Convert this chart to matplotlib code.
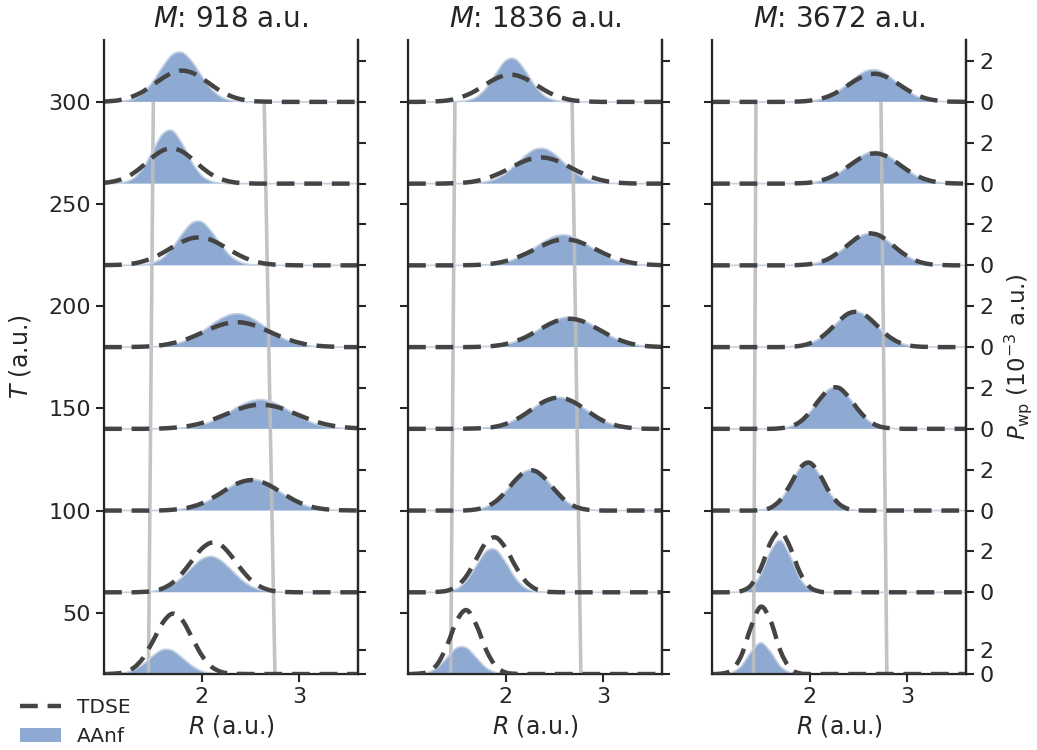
import numpy as np
import matplotlib
matplotlib.use("Agg")
import matplotlib.pyplot as plt
from matplotlib.path import Path
from matplotlib.patches import PathPatch, Patch
from matplotlib.lines import Line2D

# ---------------- data ----------------
R_grid = np.linspace(1.0, 3.6, 27)          # R (a.u.)
T_rows = [20, 60, 100, 140, 180, 220, 260, 300]   # T (a.u.) of each snapshot
masses = [918, 1836, 3672]

# P_wp in 10^-3 a.u., one list per T row (20 ... 300)
aanf_918 = [
    [0,0.02,0.09,0.32,0.82,1.52,2.05,1.98,1.38,0.70,0.25,0.07,0.01,0,0,0,0,0,0,0,0,0,0,0,0,0,0],
    [0,0,0,0,0.01,0.05,0.15,0.37,0.74,1.21,1.62,1.76,1.55,1.12,0.65,0.31,0.12,0.04,0.01,0,0,0,0,0,0,0,0],
    [0,0,0,0,0,0,0.01,0.03,0.08,0.17,0.33,0.56,0.86,1.18,1.42,1.53,1.46,1.23,0.93,0.62,0.37,0.19,0.09,0.04,0.01,0,0],
    [0,0,0,0,0,0,0.01,0.02,0.04,0.09,0.19,0.36,0.59,0.87,1.15,1.35,1.43,1.35,1.15,0.87,0.59,0.36,0.19,0.09,0.04,0.02,0.01],
    [0,0,0,0,0.01,0.02,0.05,0.12,0.25,0.46,0.75,1.09,1.40,1.60,1.62,1.45,1.16,0.82,0.52,0.29,0.14,0.06,0.02,0.01,0,0,0],
    [0,0,0,0.01,0.03,0.12,0.36,0.85,1.53,2.07,2.13,1.66,0.98,0.44,0.15,0.04,0.01,0,0,0,0,0,0,0,0,0,0],
    [0,0.01,0.06,0.25,0.75,1.60,2.42,2.59,1.96,1.05,0.40,0.11,0.02,0,0,0,0,0,0,0,0,0,0,0,0,0,0],
    [0,0.01,0.04,0.15,0.44,0.99,1.71,2.31,2.42,1.98,1.27,0.63,0.24,0.07,0.02,0,0,0,0,0,0,0,0,0,0,0,0],
]
tdse_918 = [
    [0,0.03,0.14,0.50,1.35,2.77,4.31,5.09,4.56,3.09,1.59,0.62,0.18,0.04,0.01,0,0,0,0,0,0,0,0,0,0,0,0],
    [0,0,0,0,0.02,0.06,0.19,0.46,0.93,1.54,2.13,2.43,2.30,1.80,1.16,0.62,0.28,0.10,0.03,0.01,0,0,0,0,0,0,0],
    [0,0,0,0,0,0,0.01,0.04,0.09,0.19,0.35,0.59,0.87,1.17,1.39,1.49,1.42,1.22,0.93,0.64,0.39,0.22,0.11,0.05,0.02,0.01,0],
    [0,0,0,0,0,0.01,0.02,0.05,0.09,0.17,0.28,0.43,0.62,0.81,1.00,1.13,1.18,1.14,1.03,0.85,0.66,0.47,0.31,0.19,0.11,0.06,0.03],
    [0,0,0,0.01,0.02,0.05,0.10,0.19,0.31,0.49,0.70,0.91,1.09,1.20,1.21,1.12,0.95,0.74,0.53,0.35,0.21,0.11,0.06,0.03,0.01,0,0],
    [0.01,0.02,0.04,0.09,0.20,0.37,0.61,0.89,1.15,1.33,1.36,1.24,1.00,0.72,0.46,0.26,0.13,0.06,0.02,0.01,0,0,0,0,0,0,0],
    [0.04,0.11,0.25,0.51,0.88,1.30,1.62,1.73,1.57,1.22,0.80,0.45,0.22,0.09,0.03,0.01,0,0,0,0,0,0,0,0,0,0,0],
    [0.02,0.05,0.13,0.28,0.51,0.83,1.16,1.43,1.53,1.43,1.16,0.83,0.51,0.28,0.13,0.05,0.02,0.01,0,0,0,0,0,0,0,0,0],
]
aanf_1836 = [
    [0,0.02,0.13,0.53,1.38,2.21,2.21,1.38,0.53,0.13,0.02,0,0,0,0,0,0,0,0,0,0,0,0,0,0,0,0],
    [0,0,0,0,0.03,0.17,0.57,1.30,2.00,2.08,1.47,0.70,0.22,0.05,0.01,0,0,0,0,0,0,0,0,0,0,0,0],
    [0,0,0,0,0,0,0.01,0.06,0.18,0.46,0.93,1.50,1.92,1.96,1.60,1.04,0.54,0.22,0.07,0.02,0,0,0,0,0,0,0],
    [0,0,0,0,0,0,0.01,0.02,0.05,0.11,0.24,0.45,0.74,1.07,1.37,1.53,1.51,1.32,1.01,0.68,0.40,0.21,0.10,0.04,0.01,0,0],
    [0,0,0,0,0,0,0,0.01,0.03,0.06,0.14,0.27,0.48,0.74,1.04,1.30,1.45,1.45,1.30,1.04,0.74,0.48,0.27,0.14,0.06,0.03,0.01],
    [0,0,0,0,0,0,0,0.01,0.03,0.07,0.16,0.32,0.56,0.87,1.18,1.42,1.49,1.38,1.12,0.81,0.51,0.28,0.14,0.06,0.02,0.01,0],
    [0,0,0,0,0,0,0.01,0.03,0.09,0.24,0.51,0.92,1.37,1.68,1.71,1.45,1.01,0.58,0.28,0.11,0.04,0.01,0,0,0,0,0],
    [0,0,0,0,0,0.01,0.06,0.23,0.67,1.38,2.02,2.09,1.53,0.79,0.29,0.08,0.01,0,0,0,0,0,0,0,0,0,0],
]
tdse_1836 = [
    [0,0.03,0.18,0.83,2.42,4.51,5.39,4.13,2.03,0.64,0.13,0.02,0,0,0,0,0,0,0,0,0,0,0,0,0,0,0],
    [0,0,0,0.02,0.08,0.29,0.81,1.64,2.45,2.68,2.16,1.28,0.56,0.18,0.04,0.01,0,0,0,0,0,0,0,0,0,0,0],
    [0,0,0,0,0,0,0.01,0.06,0.18,0.46,0.92,1.49,1.90,1.94,1.58,1.03,0.53,0.22,0.07,0.02,0,0,0,0,0,0,0],
    [0,0,0,0,0,0,0.01,0.02,0.05,0.11,0.24,0.44,0.73,1.06,1.35,1.51,1.49,1.30,1.00,0.67,0.39,0.21,0.10,0.04,0.01,0,0],
    [0,0,0,0,0,0,0,0.01,0.03,0.07,0.15,0.29,0.48,0.74,1.00,1.24,1.37,1.37,1.24,1.00,0.74,0.48,0.29,0.15,0.07,0.03,0.01],
    [0,0,0,0,0,0,0.01,0.02,0.05,0.11,0.21,0.36,0.56,0.79,1.02,1.20,1.27,1.22,1.06,0.84,0.60,0.39,0.23,0.12,0.06,0.03,0.01],
    [0,0,0,0,0.01,0.03,0.06,0.13,0.25,0.43,0.65,0.90,1.12,1.26,1.27,1.16,0.95,0.70,0.47,0.28,0.15,0.07,0.03,0.01,0,0,0],
    [0,0,0.01,0.03,0.07,0.17,0.33,0.57,0.87,1.14,1.31,1.31,1.14,0.87,0.57,0.33,0.17,0.07,0.03,0.01,0,0,0,0,0,0,0],
]
aanf_3672 = [
    [0,0.01,0.12,0.66,1.87,2.64,1.87,0.66,0.12,0.01,0,0,0,0,0,0,0,0,0,0,0,0,0,0,0,0,0],
    [0,0,0,0.03,0.21,0.88,2.01,2.54,1.78,0.69,0.15,0.02,0,0,0,0,0,0,0,0,0,0,0,0,0,0,0],
    [0,0,0,0,0,0.03,0.14,0.51,1.25,2.07,2.33,1.77,0.91,0.32,0.07,0.01,0,0,0,0,0,0,0,0,0,0,0],
    [0,0,0,0,0,0,0,0.03,0.11,0.34,0.80,1.43,1.94,2.00,1.55,0.92,0.41,0.14,0.04,0.01,0,0,0,0,0,0,0],
    [0,0,0,0,0,0,0,0,0.02,0.06,0.18,0.42,0.81,1.28,1.65,1.71,1.45,1.00,0.56,0.26,0.10,0.03,0.01,0,0,0,0],
    [0,0,0,0,0,0,0,0,0,0.02,0.06,0.15,0.34,0.65,1.03,1.39,1.56,1.49,1.19,0.79,0.45,0.21,0.08,0.03,0.01,0,0],
    [0,0,0,0,0,0,0,0,0,0.01,0.04,0.12,0.27,0.52,0.88,1.25,1.51,1.56,1.37,1.03,0.66,0.36,0.17,0.07,0.02,0.01,0],
    [0,0,0,0,0,0,0,0,0,0.01,0.04,0.11,0.27,0.55,0.92,1.30,1.55,1.55,1.30,0.92,0.55,0.27,0.11,0.04,0.01,0,0],
]
tdse_3672 = [
    [0,0.04,0.33,1.55,3.98,5.68,4.49,1.96,0.47,0.06,0,0,0,0,0,0,0,0,0,0,0,0,0,0,0,0,0],
    [0,0,0.01,0.06,0.35,1.19,2.44,2.99,2.20,0.97,0.26,0.04,0,0,0,0,0,0,0,0,0,0,0,0,0,0,0],
    [0,0,0,0,0,0.03,0.14,0.52,1.26,2.08,2.34,1.78,0.92,0.33,0.07,0.01,0,0,0,0,0,0,0,0,0,0,0],
    [0,0,0,0,0,0,0,0.03,0.11,0.34,0.80,1.43,1.94,2.00,1.55,0.92,0.41,0.14,0.04,0.01,0,0,0,0,0,0,0],
    [0,0,0,0,0,0,0,0,0.02,0.06,0.18,0.42,0.81,1.28,1.65,1.71,1.45,1.00,0.56,0.26,0.10,0.03,0.01,0,0,0,0],
    [0,0,0,0,0,0,0,0,0,0.02,0.06,0.15,0.34,0.65,1.03,1.39,1.56,1.49,1.19,0.79,0.45,0.21,0.08,0.03,0.01,0,0],
    [0,0,0,0,0,0,0,0,0.01,0.02,0.05,0.13,0.29,0.54,0.86,1.19,1.43,1.47,1.31,1.00,0.66,0.38,0.19,0.08,0.03,0.01,0],
    [0,0,0,0,0,0,0,0,0.01,0.02,0.06,0.14,0.29,0.53,0.84,1.14,1.34,1.36,1.19,0.90,0.59,0.33,0.16,0.07,0.02,0.01,0],
]

# classical turning points (R at T = 20 and T = 300)
turn_T = [20, 300]
inner_918, outer_918 = [1.455, 1.505], [2.75, 2.64]
inner_1836, outer_1836 = [1.437, 1.48], [2.77, 2.68]
inner_3672, outer_3672 = [1.425, 1.45], [2.79, 2.73]

# right-axis scale: T units per 10^-3 a.u. in each row
row_scale = [5.8, 10, 10, 10, 10, 10, 10, 10]

T_ticks = [50, 100, 150, 200, 250, 300]
R_ticks = [2, 3]

# ---------------- style ----------------
TXT = "#262626"
FILL = "#8eaad2"
EDGE = "#c6d1e2"
DASH = "#444444"
GRAY = "#bdbdbd"
plt.rcParams.update({
    "font.family": ["DejaVu Sans"],
    "text.color": TXT, "axes.labelcolor": TXT,
    "xtick.color": TXT, "ytick.color": TXT,
    "axes.edgecolor": TXT,
})


def smooth(x, y):
    pts = np.column_stack([x, y])
    ext = np.vstack([pts[0], pts, pts[-1]])
    verts = [pts[0]]
    codes = [Path.MOVETO]
    for i in range(len(pts) - 1):
        p0, p1, p2, p3 = ext[i], ext[i + 1], ext[i + 2], ext[i + 3]
        verts += [p1 + (p2 - p0) / 6.0, p2 - (p3 - p1) / 6.0, p2]
        codes += [Path.CURVE4] * 3
    return verts, codes


fig, axes = plt.subplots(1, 3, figsize=(10.37, 7.5), dpi=100)
fig.subplots_adjust(left=0.1003, right=0.9315, bottom=0.1013, top=0.9467, wspace=0.197)

panels = [
    (aanf_918, tdse_918, inner_918, outer_918),
    (aanf_1836, tdse_1836, inner_1836, outer_1836),
    (aanf_3672, tdse_3672, inner_3672, outer_3672),
]

for ci, (ax, mass, (aanf, tdse, inner, outer)) in enumerate(zip(axes, masses, panels)):
    ax.set_xlim(1.0, 3.6)
    ax.set_ylim(20, 330.3)
    for ri, T0 in enumerate(T_rows):
        s = row_scale[ri]
        a = np.asarray(aanf[ri], float)
        t = np.asarray(tdse[ri], float)
        assert len(a) == len(R_grid) and len(t) == len(R_grid)
        va, ca = smooth(R_grid, T0 + s * a)
        fill_verts = va + [(R_grid[-1], T0), (R_grid[0], T0), va[0]]
        fill_codes = ca + [Path.LINETO, Path.LINETO, Path.CLOSEPOLY]
        ax.add_patch(PathPatch(Path(fill_verts, fill_codes), facecolor=FILL,
                               edgecolor="none", zorder=1))
        ax.add_patch(PathPatch(Path(va, ca), fill=False, edgecolor=EDGE,
                               lw=1.2, zorder=2.5))
        vt, ct = smooth(R_grid, T0 + s * t)
        ax.add_patch(PathPatch(Path(vt, ct), fill=False, edgecolor=DASH, lw=3.2,
                               linestyle=(0, (4, 2.2)), capstyle="butt", zorder=3))
    ax.plot(inner, turn_T, color=GRAY, lw=2.6, alpha=0.9, zorder=2, solid_capstyle="butt")
    ax.plot(outer, turn_T, color=GRAY, lw=2.6, alpha=0.9, zorder=2, solid_capstyle="butt")

    ax.set_xticks(R_ticks)
    ax.set_yticks(T_ticks)
    ax.tick_params(direction="out", length=5.5, width=1.5, labelsize=16, pad=4)
    if ci > 0:
        ax.set_yticklabels([])
    else:
        ax.set_ylabel(r"$T$ (a.u.)", fontsize=17, labelpad=11)
    ax.set_xlabel(r"$R$ (a.u.)", fontsize=17, labelpad=4)
    ax.set_title(rf"$M$: {mass} a.u.", fontsize=20, pad=9)
    for side in ("left", "right", "bottom"):
        ax.spines[side].set_linewidth(1.6)
    ax.spines["top"].set_visible(False)

    ax2 = ax.twinx()
    ax2.set_ylim(ax.get_ylim())
    rt, rl = [], []
    for ri, T0 in enumerate(T_rows):
        rt += [T0, T0 + 2 * row_scale[ri]]
        rl += ["0", "2"]
    ax2.set_yticks(rt)
    ax2.set_yticklabels(rl if ci == 2 else [""] * len(rl))
    ax2.tick_params(direction="out", length=5.5, width=1.5, labelsize=16, pad=4)
    ax2.spines["top"].set_visible(False)
    ax2.spines["right"].set_linewidth(1.6)

fig.text(0.982, 0.525, r"$P_{\rm wp}$ ($10^{-3}$ a.u.)", rotation=90,
         ha="center", va="center", fontsize=16.5, color=TXT)

handles = [Line2D([], [], color=DASH, lw=3.2, linestyle=(0, (4, 2.2))),
           Patch(facecolor=FILL, edgecolor="none")]
fig.legend(handles, ["TDSE", "AAnf"], loc="upper left", bbox_to_anchor=(0.012, 0.080),
           frameon=False, fontsize=14.5, handlelength=2.0, borderaxespad=0,
           borderpad=0.4, labelspacing=0.5)

fig.savefig("out.png", dpi=100)
